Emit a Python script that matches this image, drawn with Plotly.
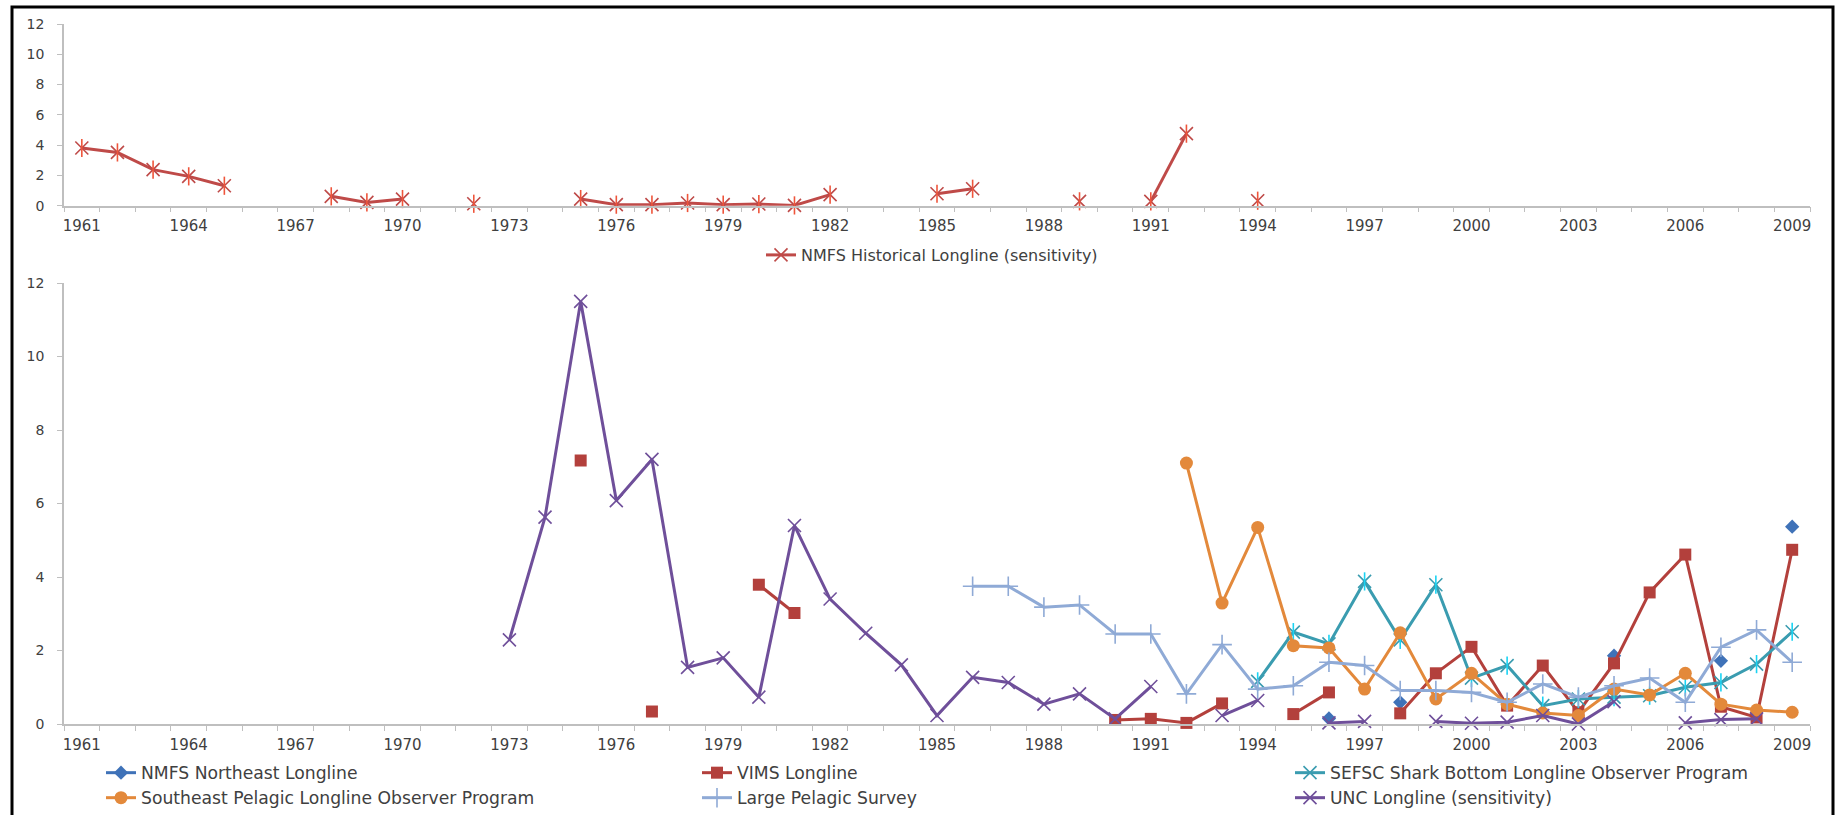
import plotly.graph_objects as go

# ---- categories -------------------------------------------------------
YEARS = list(range(1961, 2010))
TICK_YEARS = list(range(1961, 2010, 3))
TICK_LABELS = [str(y) for y in TICK_YEARS]
Y_TICKS = [0, 2, 4, 6, 8, 10, 12]

# ---- series (year, value) ---------------------------------------------
HIST_YEARS = [1961, 1962, 1963, 1964, 1965, 1968, 1969, 1970, 1972, 1975, 1976, 1977,
              1978, 1979, 1980, 1981, 1982, 1985, 1986, 1989, 1991, 1992, 1994]
HIST_VALUES = [3.81, 3.52, 2.38, 1.94, 1.32, 0.62, 0.22, 0.44, 0.13, 0.44, 0.07, 0.07,
               0.18, 0.07, 0.11, 0.02, 0.73, 0.79, 1.12, 0.29, 0.29, 4.76, 0.33]

NE_YEARS = [1996, 1998, 2004, 2007, 2009]
NE_VALUES = [0.15, 0.59, 1.86, 1.72, 5.37]

VIMS_YEARS = [1975, 1977, 1980, 1981, 1990, 1991, 1992, 1993, 1995, 1996, 1998, 1999,
              2000, 2001, 2002, 2003, 2004, 2005, 2006, 2007, 2008, 2009]
VIMS_VALUES = [7.17, 0.34, 3.79, 3.02, 0.11, 0.14, 0.03, 0.56, 0.27, 0.86, 0.29, 1.38,
               2.10, 0.50, 1.59, 0.32, 1.65, 3.58, 4.61, 0.47, 0.18, 4.74]

SEFSC_YEARS = list(range(1994, 2010))
SEFSC_VALUES = [1.16, 2.50, 2.18, 3.88, 2.29, 3.79, 1.25, 1.59, 0.50, 0.68, 0.73, 0.77,
                1.00, 1.13, 1.63, 2.51]

SEPLOP_YEARS = list(range(1992, 2010))
SEPLOP_VALUES = [7.10, 3.29, 5.35, 2.13, 2.07, 0.95, 2.48, 0.68, 1.38, 0.54, 0.30, 0.23,
                 0.95, 0.79, 1.38, 0.54, 0.38, 0.32]

LPS_YEARS = list(range(1986, 2010))
LPS_VALUES = [3.75, 3.75, 3.18, 3.24, 2.45, 2.45, 0.82, 2.16, 0.95, 1.04, 1.68, 1.59,
              0.91, 0.91, 0.86, 0.59, 1.09, 0.73, 1.04, 1.25, 0.59, 2.09, 2.56, 1.68]

UNC_YEARS = [1973, 1974, 1975, 1976, 1977, 1978, 1979, 1980, 1981, 1982, 1983, 1984,
             1985, 1986, 1987, 1988, 1989, 1990, 1991, 1993, 1994, 1996, 1997, 1999,
             2000, 2001, 2002, 2003, 2004, 2006, 2007, 2008]
UNC_VALUES = [2.29, 5.63, 11.50, 6.08, 7.20, 1.54, 1.80, 0.73, 5.40, 3.40, 2.47, 1.61,
              0.23, 1.27, 1.13, 0.54, 0.82, 0.14, 1.02, 0.23, 0.64, 0.03, 0.07, 0.07,
              0.02, 0.05, 0.23, 0.00, 0.61, 0.03, 0.12, 0.14]


def on_axis(years, values):
    """Spread a series over every year so missing years break the line."""
    lookup = dict(zip(years, values))
    return [lookup.get(y) for y in YEARS]


FONT = "DejaVu Sans"
TEXT = "#404040"
AXIS = "#BFBFBF"

fig = go.Figure()


def add_series(name, years, values, color, symbol, size, legend, xa, ya,
               star=False, mlw=1.6):
    y = on_axis(years, values)
    fig.add_trace(go.Scatter(
        x=YEARS, y=y, name=name, mode="lines+markers", connectgaps=False,
        line=dict(color=color, width=3),
        marker=dict(symbol=symbol, size=size, color=color,
                    line=dict(color=color, width=mlw)),
        cliponaxis=False, legend=legend, xaxis=xa, yaxis=ya,
    ))
    if star:
        # vertical stroke that turns the x marker into a six-armed star
        fig.add_trace(go.Scatter(
            x=YEARS, y=y, mode="markers", showlegend=False, hoverinfo="skip",
            marker=dict(symbol="line-ns-open", size=size,
                        line=dict(color=color, width=mlw)),
            cliponaxis=False, xaxis=xa, yaxis=ya,
        ))


# upper panel
add_series("NMFS Historical Longline (sensitivity)", HIST_YEARS, HIST_VALUES,
           "#BF4A48", "x-thin-open", 13, "legend7", "x", "y", star=True)

# lower panel
add_series("NMFS Northeast Longline", NE_YEARS, NE_VALUES,
           "#3F72B8", "diamond", 11, "legend", "x2", "y2", mlw=0)
add_series("VIMS Longline", VIMS_YEARS, VIMS_VALUES,
           "#B3403C", "square", 12, "legend2", "x2", "y2", mlw=0)
add_series("SEFSC Shark Bottom Longline Observer Program", SEFSC_YEARS, SEFSC_VALUES,
           "#3A9CB0", "x-thin-open", 13, "legend3", "x2", "y2", star=True)
add_series("Southeast Pelagic Longline Observer Program", SEPLOP_YEARS, SEPLOP_VALUES,
           "#E3893B", "circle", 13, "legend4", "x2", "y2", mlw=0)
add_series("Large Pelagic Survey", LPS_YEARS, LPS_VALUES,
           "#8FAAD6", "cross-thin-open", 14, "legend5", "x2", "y2")
add_series("UNC Longline (sensitivity)", UNC_YEARS, UNC_VALUES,
           "#6F4F9A", "x-thin-open", 13, "legend6", "x2", "y2")

W, H = 1840, 815


def xaxis_style():
    return dict(
        range=[1960.5, 2009.5], showgrid=False, zeroline=False,
        showline=True, linecolor=AXIS, linewidth=1.5,
        tickmode="array", tickvals=TICK_YEARS, ticktext=TICK_LABELS,
        ticks="", ticklabelstandoff=6, tickangle=0, automargin=False,
        tickfont=dict(family=FONT, size=15, color=TEXT),
        minor=dict(tickmode="linear", tick0=1960.5, dtick=1, ticks="outside",
                   ticklen=5, tickcolor=AXIS, tickwidth=1.2, showgrid=False),
    )


def yaxis_style(domain):
    return dict(
        domain=domain, range=[0, 12], showgrid=False, zeroline=False,
        showline=True, linecolor=AXIS, linewidth=1.5, automargin=False,
        tickmode="array", tickvals=Y_TICKS, ticks="outside", ticklen=5,
        tickcolor=AXIS, tickwidth=1.2, ticklabelstandoff=10,
        tickfont=dict(family=FONT, size=14, color=TEXT),
    )


def legend_at(x_px, y_px, size):
    return dict(
        xref="container", yref="container", x=x_px / W, y=1 - y_px / H,
        xanchor="left", yanchor="middle", orientation="v",
        bgcolor="rgba(0,0,0,0)", borderwidth=0,
        font=dict(family=FONT, size=size, color=TEXT),
    )


LEG = 17.2
fig.update_layout(
    width=W, height=H,
    margin=dict(l=64, r=30, t=24, b=91, pad=0, autoexpand=False),
    paper_bgcolor="white", plot_bgcolor="white",
    font=dict(family=FONT, color=TEXT),
    xaxis=dict(anchor="y", domain=[0, 1], **xaxis_style()),
    yaxis=dict(anchor="x", **yaxis_style([0.7404, 1.0])),
    xaxis2=dict(anchor="y2", domain=[0, 1], **xaxis_style()),
    yaxis2=dict(anchor="x2", **yaxis_style([0.0, 0.63])),
    legend=legend_at(101, 773, LEG),
    legend2=legend_at(697, 773, LEG),
    legend3=legend_at(1290, 773, LEG),
    legend4=legend_at(101, 798, LEG),
    legend5=legend_at(697, 798, LEG),
    legend6=legend_at(1290, 798, LEG),
    legend7=legend_at(761, 255, 16),
    showlegend=True,
)

# outer frame
fig.add_shape(type="rect", xref="paper", yref="paper",
              x0=(12 - 64) / 1746, x1=(1833 - 64) / 1746,
              y0=(724 - 830) / 700, y1=(724 - 7) / 700,
              line=dict(color="black", width=3), fillcolor="rgba(0,0,0,0)")

fig.write_html("out.html")
